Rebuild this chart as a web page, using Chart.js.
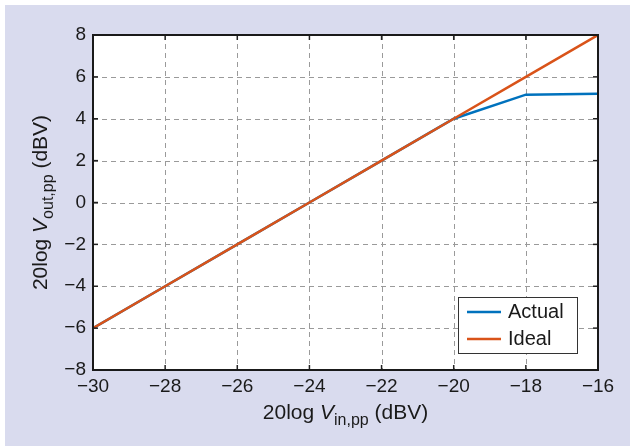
<!DOCTYPE html>
<html>
<head>
<meta charset="utf-8">
<script src="https://cdn.jsdelivr.net/npm/chart.js@4/dist/chart.umd.min.js"></script>
<style>
html,body{margin:0;padding:0;background:#fff;}
#wrap{width:630px;height:447px;}
</style>
</head>
<body>
<div id="wrap"><canvas id="c" width="630" height="447"></canvas></div>
<script>
const xValues = [-30, -28, -26, -24, -22, -20, -18, -16];
const actualValues = [-6, -4, -2, 0, 2, 4, 5.15, 5.2];
const idealValues = [-6, -4, -2, 0, 2, 4, 6, 8];
const xTickLabels = ['−30','−28','−26','−24','−22','−20','−18','−16'];
const yTickLabels = ['−8','−6','−4','−2','0','2','4','6','8'];
const seriesNames = ['Actual', 'Ideal'];
const seriesColors = ['#0072BD', '#D95319'];

const FONT = '"Liberation Sans", Arial, sans-serif';

function drawRich(ctx, parts, x, y, align) {
  let total = 0;
  const fontOf = p => (p.italic ? 'italic ' : '') + (p.sub ? '16px ' : '21px ') + FONT;
  const meas = parts.map(p => {
    ctx.font = fontOf(p);
    const w = ctx.measureText(p.t).width;
    total += w;
    return w;
  });
  let cx = align === 'center' ? x - total / 2 : x;
  parts.forEach((p, i) => {
    ctx.font = fontOf(p);
    ctx.fillText(p.t, cx, y + (p.sub ? 6 : 0));
    cx += meas[i];
  });
}

const framePlugin = {
  id: 'frame',
  beforeDraw(chart) {
    const ctx = chart.ctx;
    ctx.save();
    ctx.fillStyle = '#ffffff';
    ctx.fillRect(0, 0, chart.width, chart.height);
    ctx.fillStyle = '#d9dbee';
    ctx.fillRect(5, 5, chart.width - 5, chart.height - 6);
    const a = chart.chartArea;
    ctx.fillStyle = '#ffffff';
    ctx.fillRect(a.left, a.top, a.right - a.left, a.bottom - a.top);
    ctx.restore();
  },
  beforeDatasetsDraw(chart) {
    const ctx = chart.ctx, a = chart.chartArea;
    const xs = chart.scales.x, ys = chart.scales.y;
    ctx.save();
    ctx.strokeStyle = '#9a9a9a';
    ctx.lineWidth = 1;
    ctx.setLineDash([5, 4]);
    xs.ticks.forEach(t => {
      const px = Math.round(xs.getPixelForValue(t.value)) + 0.5;
      if (px <= a.left + 1 || px >= a.right - 1) return;
      ctx.beginPath(); ctx.moveTo(px, a.top); ctx.lineTo(px, a.bottom); ctx.stroke();
    });
    ys.ticks.forEach(t => {
      const py = Math.round(ys.getPixelForValue(t.value)) + 0.5;
      if (py <= a.top + 1 || py >= a.bottom - 1) return;
      ctx.beginPath(); ctx.moveTo(a.left, py); ctx.lineTo(a.right, py); ctx.stroke();
    });
    ctx.restore();
  },
  afterDatasetsDraw(chart) {
    const ctx = chart.ctx, a = chart.chartArea;
    const xs = chart.scales.x, ys = chart.scales.y;
    ctx.save();
    ctx.strokeStyle = '#222';
    ctx.lineWidth = 1.5;
    const tl = 5;
    xs.ticks.forEach(t => {
      const px = xs.getPixelForValue(t.value);
      ctx.beginPath(); ctx.moveTo(px, a.bottom); ctx.lineTo(px, a.bottom - tl); ctx.stroke();
      ctx.beginPath(); ctx.moveTo(px, a.top); ctx.lineTo(px, a.top + tl); ctx.stroke();
    });
    ys.ticks.forEach(t => {
      const py = ys.getPixelForValue(t.value);
      ctx.beginPath(); ctx.moveTo(a.left, py); ctx.lineTo(a.left + tl, py); ctx.stroke();
      ctx.beginPath(); ctx.moveTo(a.right, py); ctx.lineTo(a.right - tl, py); ctx.stroke();
    });
    ctx.strokeStyle = '#1a1a1a';
    ctx.lineWidth = 2;
    ctx.strokeRect(a.left, a.top, a.right - a.left, a.bottom - a.top);

    // legend
    const lx = 458, ly = 297, lw = 119, lh = 56;
    ctx.fillStyle = '#fff';
    ctx.fillRect(lx, ly, lw, lh);
    ctx.strokeStyle = '#333';
    ctx.lineWidth = 1;
    ctx.strokeRect(lx + 0.5, ly + 0.5, lw, lh);
    ctx.font = '20px ' + FONT;
    ctx.textBaseline = 'middle';
    ctx.textAlign = 'left';
    chart.data.datasets.forEach((ds, i) => {
      const yy = ly + 15 + i * 27;
      ctx.strokeStyle = ds.borderColor;
      ctx.lineWidth = 2.5;
      ctx.beginPath(); ctx.moveTo(lx + 9, yy); ctx.lineTo(lx + 43, yy); ctx.stroke();
      ctx.fillStyle = '#1a1a1a';
      ctx.fillText(ds.label, lx + 50, yy);
    });

    ctx.fillStyle = '#1a1a1a';
    ctx.textBaseline = 'alphabetic';
    const cxm = (a.left + a.right) / 2;
    drawRich(ctx, [{t:'20log '},{t:'V',italic:true},{t:'in,pp',sub:true},{t:' (dBV)'}], cxm, 419, 'center');
    ctx.save();
    ctx.translate(47, (a.top + a.bottom) / 2);
    ctx.rotate(-Math.PI / 2);
    drawRich(ctx, [{t:'20log '},{t:'V',italic:true},{t:'out,pp',sub:true},{t:' (dBV)'}], 0, 0, 'center');
    ctx.restore();
    ctx.restore();
  }
};

new Chart(document.getElementById('c'), {
  type: 'line',
  data: {
    datasets: [
      { label: seriesNames[0], data: xValues.map((x, i) => ({x, y: actualValues[i]})),
        borderColor: seriesColors[0], borderWidth: 2.5, pointRadius: 0, fill: false, tension: 0, order: 1 },
      { label: seriesNames[1], data: xValues.map((x, i) => ({x, y: idealValues[i]})),
        borderColor: seriesColors[1], borderWidth: 2.5, pointRadius: 0, fill: false, tension: 0, order: 0 }
    ]
  },
  options: {
    responsive: false,
    animation: false,
    events: [],
    layout: { padding: { left: 0, top: 35, right: 32, bottom: 0 } },
    plugins: { legend: { display: false }, tooltip: { enabled: false } },
    scales: {
      x: {
        type: 'linear', min: -30, max: -16,
        afterFit(s) { s.height = 77; },
        grid: { display: false, drawTicks: false },
        border: { display: false },
        ticks: {
          stepSize: 2, padding: 5, color: '#1a1a1a', maxRotation: 0,
          font: { family: FONT, size: 19 },
          callback: (v) => { const i = xValues.indexOf(v); return i >= 0 ? xTickLabels[i] : ''; }
        }
      },
      y: {
        type: 'linear', min: -8, max: 8,
        afterFit(s) { s.width = 93; },
        grid: { display: false, drawTicks: false },
        border: { display: false },
        ticks: {
          stepSize: 2, padding: 7, color: '#1a1a1a',
          font: { family: FONT, size: 19 },
          callback: (v) => yTickLabels[(v + 8) / 2]
        }
      }
    }
  },
  plugins: [framePlugin]
});
</script>
</body>
</html>
